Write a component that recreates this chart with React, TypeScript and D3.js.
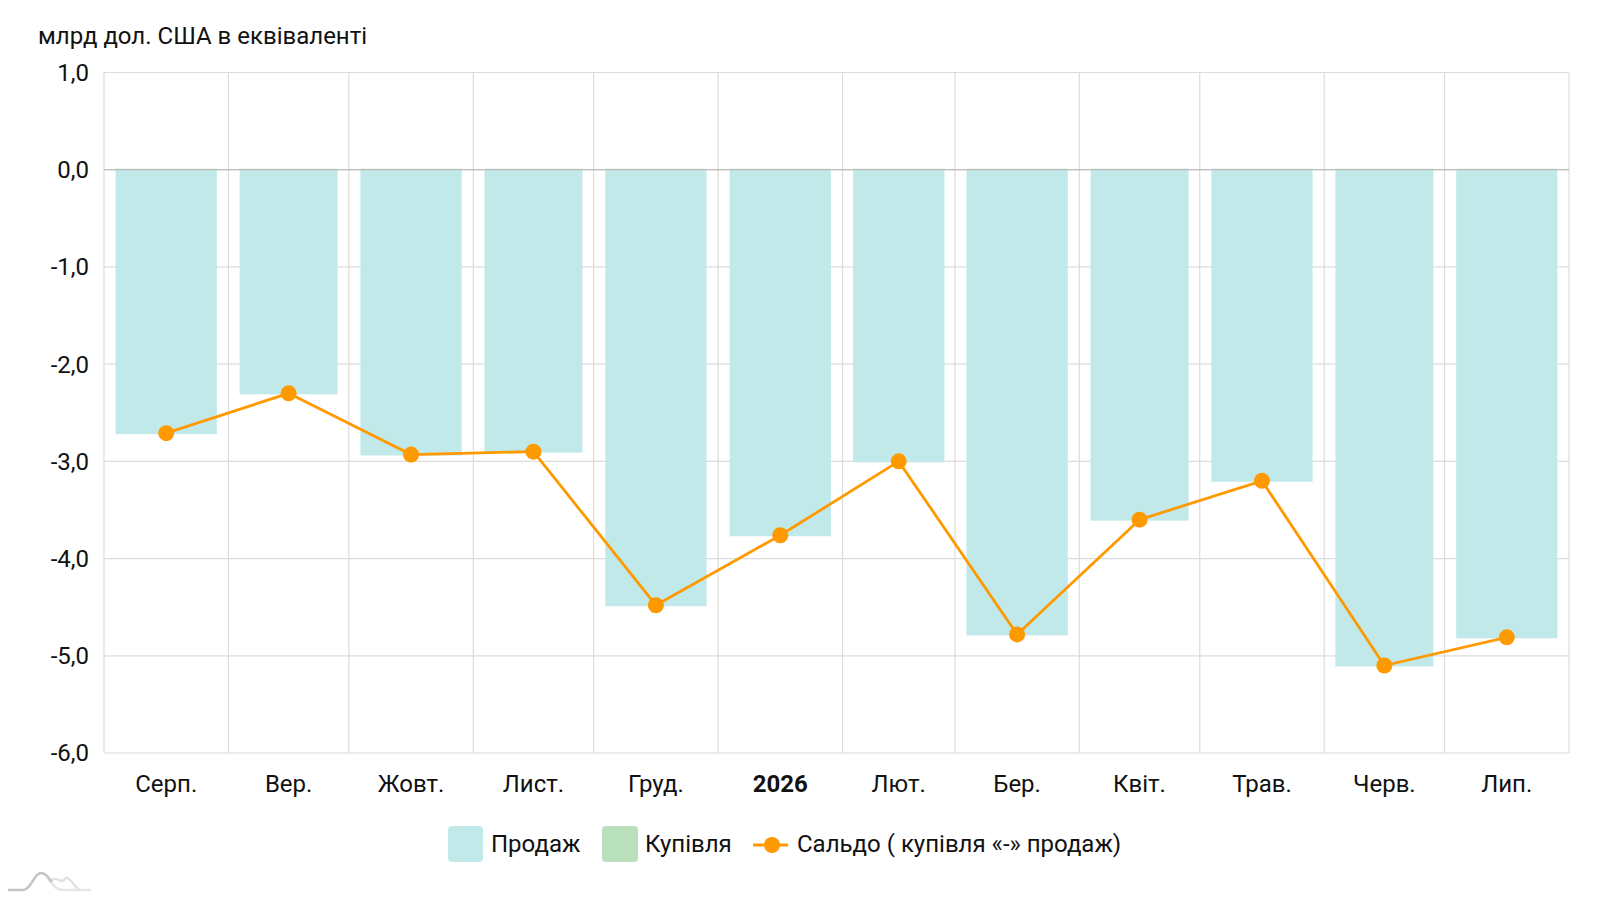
import { useEffect, useRef } from "react"
import * as d3 from "d3"

const months = ["2025-08", "2025-09", "2025-10", "2025-11", "2025-12", "2026-01", "2026-02", "2026-03", "2026-04", "2026-05", "2026-06", "2026-07"]
const monthLabels = ["Серп.", "Вер.", "Жовт.", "Лист.", "Груд.", "2026", "Лют.", "Бер.", "Квіт.", "Трав.", "Черв.", "Лип."]
const sales = [-2.72, -2.31, -2.94, -2.91, -4.49, -3.77, -3.01, -4.79, -3.61, -3.21, -5.11, -4.82]
const purchases = [0.01, 0.01, 0.01, 0.01, 0.01, 0.01, 0.01, 0.01, 0.01, 0.01, 0.01, 0.01]
const balance = [-2.71, -2.30, -2.93, -2.90, -4.48, -3.76, -3.00, -4.78, -3.60, -3.20, -5.10, -4.81]
const yTicks = [1, 0, -1, -2, -3, -4, -5, -6]

const salesColor = "#c2e9e9"
const buyColor = "#b8e0bd"
const lineColor = "#ff9900"
const font = "Roboto, 'Noto Sans', sans-serif"

export default function App() {
  const svgRef = useRef<SVGSVGElement>(null)

  useEffect(() => {
    d3.select(svgRef.current).selectAll("*").remove()
    if (!svgRef.current) return
    const svg = d3.select(svgRef.current)
    const width = 1600
    const height = 900
    const margin = { top: 72.5, right: 31, bottom: 147, left: 104 }

    const parse = d3.utcParse("%Y-%m")
    const starts = months.map(m => parse(m) as Date)
    const ends = starts.map(d => d3.utcMonth.offset(d, 1))
    const mids = starts.map((d, i) => new Date((d.getTime() + ends[i].getTime()) / 2))

    const x = d3.scaleUtc()
      .domain([starts[0], ends[ends.length - 1]])
      .range([margin.left, width - margin.right])
    const y = d3.scaleLinear()
      .domain([-6, 1])
      .range([height - margin.bottom, margin.top])

    // grid
    const grid = svg.append("g").attr("stroke", "#dcdcdc").attr("stroke-width", 1.2)
    yTicks.forEach(t => {
      grid.append("line")
        .attr("x1", margin.left).attr("x2", width - margin.right)
        .attr("y1", y(t)).attr("y2", y(t))
    })
    ;[...starts, ends[ends.length - 1]].forEach(d => {
      grid.append("line")
        .attr("x1", x(d)).attr("x2", x(d))
        .attr("y1", margin.top).attr("y2", height - margin.bottom)
    })

    const pad = 0.093
    const bw = (i: number) => x(ends[i]) - x(starts[i])

    svg.append("g").selectAll("rect")
      .data(sales)
      .join("rect")
      .attr("x", (d, i) => x(starts[i]) + bw(i) * pad)
      .attr("width", (d, i) => bw(i) * (1 - 2 * pad))
      .attr("y", y(0))
      .attr("height", d => y(d) - y(0))
      .attr("fill", salesColor)

    svg.append("g").selectAll("rect")
      .data(purchases)
      .join("rect")
      .attr("x", (d, i) => x(starts[i]) + bw(i) * pad)
      .attr("width", (d, i) => bw(i) * (1 - 2 * pad))
      .attr("y", d => y(d))
      .attr("height", d => y(0) - y(d))
      .attr("fill", buyColor)

    svg.append("line")
      .attr("x1", margin.left).attr("x2", width - margin.right)
      .attr("y1", y(0)).attr("y2", y(0))
      .attr("stroke", "#bdbdbd").attr("stroke-width", 1.2)

    const line = d3.line<number>()
      .x((d, i) => x(mids[i]))
      .y(d => y(d))

    svg.append("path")
      .datum(balance)
      .attr("fill", "none")
      .attr("stroke", lineColor)
      .attr("stroke-width", 2.8)
      .attr("d", line)

    svg.append("g").selectAll("circle")
      .data(balance)
      .join("circle")
      .attr("cx", (d, i) => x(mids[i]))
      .attr("cy", d => y(d))
      .attr("r", 8)
      .attr("fill", lineColor)

    // y labels
    svg.append("g").selectAll("text")
      .data(yTicks)
      .join("text")
      .attr("x", 89)
      .attr("y", d => y(d))
      .attr("dy", "0.35em")
      .attr("text-anchor", "end")
      .attr("font-family", font)
      .attr("font-size", 24)
      .attr("fill", "#111")
      .text(d => d3.format(".1f")(d).replace(".", ",").replace("−", "-"))

    // x labels
    svg.append("g").selectAll("text")
      .data(monthLabels)
      .join("text")
      .attr("x", (d, i) => x(mids[i]))
      .attr("y", 792)
      .attr("text-anchor", "middle")
      .attr("font-family", font)
      .attr("font-size", 24)
      .attr("font-weight", (d, i) => (i === 5 ? 700 : 400))
      .attr("fill", "#111")
      .text(d => d)

    svg.append("text")
      .attr("x", 38).attr("y", 44)
      .attr("font-family", font)
      .attr("font-size", 24)
      .attr("fill", "#111")
      .text("млрд дол. США в еквіваленті")

    // legend
    const lg = svg.append("g").attr("font-family", font).attr("font-size", 24).attr("fill", "#111")
    lg.append("rect").attr("x", 448).attr("y", 826).attr("width", 35).attr("height", 36).attr("rx", 4).attr("fill", salesColor)
    lg.append("text").attr("x", 491).attr("y", 852).text("Продаж")
    lg.append("rect").attr("x", 602).attr("y", 826).attr("width", 36).attr("height", 36).attr("rx", 4).attr("fill", buyColor)
    lg.append("text").attr("x", 645).attr("y", 852).text("Купівля")
    lg.append("line").attr("x1", 753).attr("x2", 788).attr("y1", 845).attr("y2", 845).attr("stroke", lineColor).attr("stroke-width", 2.8)
    lg.append("circle").attr("cx", 772).attr("cy", 845).attr("r", 8).attr("fill", lineColor)
    lg.append("text").attr("x", 797).attr("y", 852).text("Сальдо ( купівля «-» продаж)")

    // logo
    const logo = svg.append("g").attr("fill", "none").attr("stroke-width", 2.5).attr("stroke-linecap", "round")
    logo.append("path")
      .attr("d", "M47,877 C53,884 55,890 63,890 L90,890")
      .attr("stroke", "#e6e6e6")
    logo.append("path")
      .attr("d", "M51,881 C57,875 60,884 64,880 C68,873 73,885 79,890")
      .attr("stroke", "#e2e2e2")
    logo.append("path")
      .attr("d", "M9,890 L23,890 C31,890 34,873 41,873 C46,873 49,878 51,881")
      .attr("stroke", "#c4c4c4")
  }, [])

  return (
    <div style={{ position: "absolute", left: 0, top: 0 }}>
      <svg ref={svgRef} width="1600" height="900"></svg>
    </div>
  )
}
